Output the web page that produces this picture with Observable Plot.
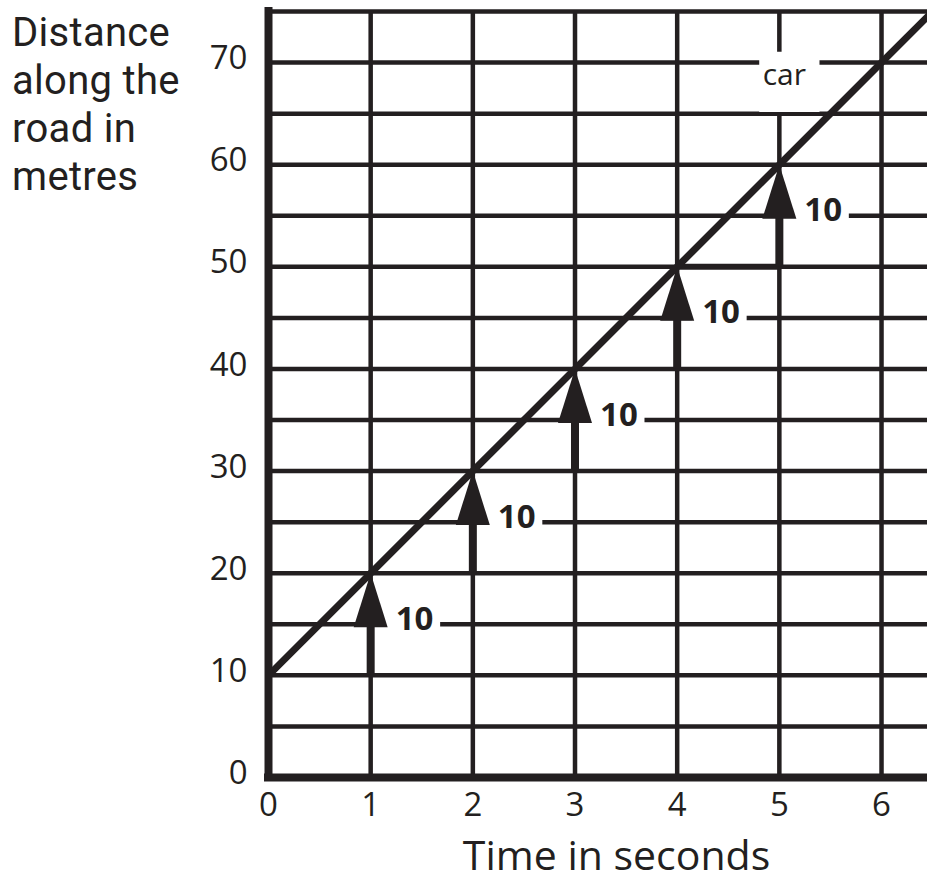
<!DOCTYPE html>
<html>
<head>
<meta charset="utf-8">
<script src="https://cdn.jsdelivr.net/npm/d3@7"></script>
<script src="https://cdn.jsdelivr.net/npm/@observablehq/plot@0.6"></script>
<style>
  body { margin: 0; background: #fff; }
  #wrap { position: relative; width: 927px; height: 882px; font-family: "Open Sans", sans-serif; color: #231f20; }
  #title { position: absolute; left: 12px; top: 9px; font-family: Roboto, "Open Sans", sans-serif; font-size: 40px; line-height: 48px; letter-spacing: 0.3px; }
  #wrap svg { position: absolute; left: 0; top: 0; }
</style>
</head>
<body>
<div id="wrap"><div id="chart"></div><div id="title">Distance<br>along the<br>road in<br>metres</div></div>
<script>
const ink = "#231f20";

// Tick labels and grid
const timeTicks = [0, 1, 2, 3, 4, 5, 6];
const timeGrid = [1, 2, 3, 4, 5, 6];
const distanceTicks = [0, 10, 20, 30, 40, 50, 60, 70];
const distanceGrid = [5, 10, 15, 20, 25, 30, 35, 40, 45, 50, 55, 60, 65, 70, 75];

// The car's distance-time line
const lineTime = [0, 1, 2, 3, 4, 5, 6, 6.5];
const lineDistance = [10, 20, 30, 40, 50, 60, 70, 75];

// Arrows showing +10 m each second
const arrowTime = [1, 2, 3, 4, 5];
const arrowFrom = [10, 20, 30, 40, 50];
const arrowTo = [20, 30, 40, 50, 60];
const arrowLabel = ["10", "10", "10", "10", "10"];

// Horizontal step at 50 m between 4 s and 5 s
const stepTime = [4, 5];
const stepDistance = [50];

// Line label
const carTime = [5];
const carDistance = [68.7];
const carText = ["car"];

const lineData = lineTime.map((t, i) => ({t, d: lineDistance[i]}));
const arrows = arrowTime.map((t, i) => ({t, from: arrowFrom[i], to: arrowTo[i], mid: (arrowFrom[i] + arrowTo[i]) / 2, label: arrowLabel[i]}));
const step = stepDistance.map(d => ({d, t1: stepTime[0], t2: stepTime[1]}));
const car = carTime.map((t, i) => ({t, d: carDistance[i], text: carText[i]}));

const arrowHead = {
  draw(ctx, size) {
    const r = Math.sqrt(size / Math.PI);
    ctx.moveTo(0, 0);
    ctx.lineTo(0.63 * r, 2 * r);
    ctx.lineTo(-0.63 * r, 2 * r);
    ctx.closePath();
  }
};

const chart = Plot.plot({
  width: 927,
  height: 882,
  marginLeft: 268,
  marginRight: 0,
  marginTop: 11,
  marginBottom: 105,
  x: {domain: [0, 6.45], axis: null},
  y: {domain: [0, 75], axis: null},
  style: {fontFamily: "'Open Sans', sans-serif", color: ink, background: "#fff", overflow: "visible"},
  marks: [
    Plot.ruleX(timeGrid, {stroke: ink, strokeWidth: 4.5}),
    Plot.ruleY(distanceGrid, {stroke: ink, strokeWidth: 4.5}),
    // knockouts behind labels
    Plot.dot(arrows, {x: "t", y: "mid", symbol: "square", r: 31, fill: "#fff", stroke: "none", dx: 42, dy: -7}),
    Plot.dot(car, {x: "t", y: "d", symbol: "square", r: 34, fill: "#fff", stroke: "none", dx: 10, dy: 6}),
    // axes
    Plot.ruleX([0], {stroke: ink, strokeWidth: 8, strokeLinecap: "square"}),
    Plot.ruleY([0], {stroke: ink, strokeWidth: 8, strokeLinecap: "square"}),
    // step
    Plot.ruleY(step, {y: "d", x1: "t1", x2: "t2", stroke: ink, strokeWidth: 6}),
    // main line
    Plot.line(lineData, {x: "t", y: "d", stroke: ink, strokeWidth: 7, clip: true}),
    // arrows
    Plot.ruleX(arrows, {x: "t", y1: "from", y2: "mid", stroke: ink, strokeWidth: 8}),
    Plot.dot(arrows, {x: "t", y: "to", symbol: arrowHead, r: 27, fill: ink, stroke: "none"}),
    Plot.text(arrows, {x: "t", y: "mid", text: "label", textAnchor: "start", lineAnchor: "middle", dx: 25, dy: -5, fontSize: 33, fontWeight: "bold", fill: ink}),
    Plot.text(car, {x: "t", y: "d", text: "text", lineAnchor: "middle", dx: 5, fontSize: 30, fill: ink}),
    // tick labels
    Plot.text(distanceTicks, {y: d => d, text: d => String(d), frameAnchor: "left", textAnchor: "end", lineAnchor: "middle", dx: -21, dy: -4, fontSize: 33, fill: ink}),
    Plot.text(timeTicks, {x: d => d, text: d => String(d), frameAnchor: "bottom", lineAnchor: "middle", dy: 28, fontSize: 33, fill: ink}),
    Plot.text(["Time in seconds"], {text: d => d, frameAnchor: "bottom", lineAnchor: "middle", dx: 18.5, dy: 79, fontSize: 41, fill: ink})
  ]
});
document.getElementById("chart").appendChild(chart);
</script>
</body>
</html>
